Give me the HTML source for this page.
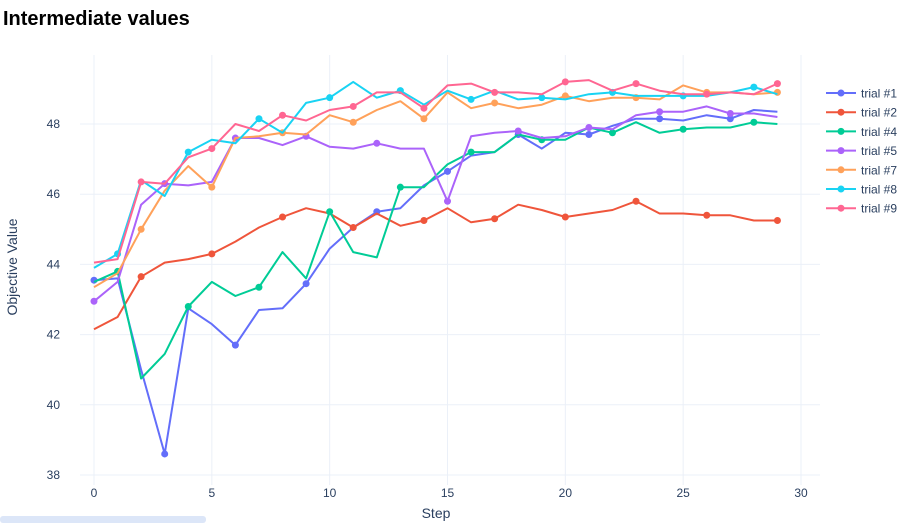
<!DOCTYPE html>
<html><head><meta charset="utf-8">
<style>
html,body{margin:0;padding:0;background:#fff;width:914px;height:523px;overflow:hidden}
svg{display:block;font-family:"Liberation Sans",Arial,sans-serif}
</style></head><body>
<svg id="chart" width="914" height="523">
<text x="3" y="25" font-size="20" font-weight="bold" fill="#000">Intermediate values</text>
<g id="grid"></g>
<g id="axes"></g>
<g id="series"></g>
<g id="legend"></g>
<text x="436" y="518" font-size="14" fill="#2a3f5f" text-anchor="middle">Step</text>
<text transform="translate(17,267) rotate(-90)" font-size="14" fill="#2a3f5f" text-anchor="middle">Objective Value</text>
<rect x="0" y="516" width="206" height="7" rx="3" fill="#dce6f8"/>
</svg>
<script>
const steps=[0,1,2,3,4,5,6,7,8,9,10,11,12,13,14,15,16,17,18,19,20,21,22,23,24,25,26,27,28,29];
const xTicks=[0,5,10,15,20,25,30];
const yTicks=[38,40,42,44,46,48];
const names=["trial #1","trial #2","trial #4","trial #5","trial #7","trial #8","trial #9"];
const colors=["#636efa","#EF553B","#00cc96","#ab63fa","#FFA15A","#19d3f3","#FF6692"];
const markerOffsets=[0,2,1,0,2,1,2];
const trial1=[43.55,43.6,41.0,38.6,42.75,42.3,41.7,42.7,42.75,43.45,44.45,45.05,45.5,45.6,46.25,46.65,47.1,47.2,47.7,47.3,47.75,47.7,47.95,48.15,48.15,48.1,48.25,48.15,48.4,48.35];
const trial2=[42.15,42.5,43.65,44.05,44.15,44.3,44.65,45.05,45.35,45.6,45.45,45.05,45.45,45.1,45.25,45.6,45.2,45.3,45.7,45.55,45.35,45.45,45.55,45.8,45.45,45.45,45.4,45.4,45.25,45.25];
const trial4=[43.5,43.8,40.75,41.45,42.8,43.5,43.1,43.35,44.35,43.6,45.5,44.35,44.2,46.2,46.2,46.85,47.2,47.2,47.7,47.55,47.55,47.9,47.75,48.05,47.75,47.85,47.9,47.9,48.05,48.0];
const trial5=[42.95,43.5,45.7,46.3,46.25,46.35,47.6,47.6,47.4,47.65,47.35,47.3,47.45,47.3,47.3,45.8,47.65,47.75,47.8,47.6,47.65,47.9,47.85,48.25,48.35,48.35,48.5,48.3,48.3,48.2];
const trial7=[43.35,43.75,45.0,46.1,46.8,46.2,47.6,47.65,47.75,47.7,48.25,48.05,48.4,48.65,48.15,48.9,48.45,48.6,48.45,48.55,48.8,48.65,48.75,48.75,48.7,49.1,48.9,48.9,48.85,48.9];
const trial8=[43.9,44.3,46.4,45.95,47.2,47.55,47.45,48.15,47.75,48.6,48.75,49.2,48.75,48.95,48.55,48.95,48.7,48.95,48.7,48.75,48.7,48.85,48.9,48.8,48.8,48.8,48.8,48.9,49.05,48.85];
const trial9=[44.05,44.15,46.35,46.3,47.05,47.3,48.0,47.8,48.25,48.1,48.4,48.5,48.9,48.9,48.45,49.1,49.15,48.9,48.9,48.85,49.2,49.25,48.95,49.15,48.95,48.85,48.85,48.9,48.85,49.15];
const allSeries=[trial1,trial2,trial4,trial5,trial7,trial8,trial9];

const NS="http://www.w3.org/2000/svg";
const X0=94,X1=801,Y0=475,Y1=124;
function xs(v){return X0+(v-0)/(30-0)*(X1-X0);}
function ys(v){return Y0-(v-38)/(48-38)*(Y0-Y1);}
function mk(tag,attrs,parent){const e=document.createElementNS(NS,tag);for(const k in attrs)e.setAttribute(k,attrs[k]);parent.appendChild(e);return e;}
const grid=document.getElementById('grid'),axes=document.getElementById('axes'),ser=document.getElementById('series'),leg=document.getElementById('legend');

xTicks.forEach(t=>{
  const l=mk('line',{x1:xs(t),x2:xs(t),y1:55,y2:485,stroke:'#ebf0f8','stroke-width':1},grid);
  
  
  const tx=mk('text',{x:xs(t),y:497,'font-size':12,fill:'#2a3f5f','text-anchor':'middle'},axes);
  tx.textContent=t;
  
  
});
yTicks.forEach(t=>{
  const l=mk('line',{x1:80,x2:820,y1:ys(t),y2:ys(t),stroke:'#ebf0f8','stroke-width':1},grid);
  
  
  const tx=mk('text',{x:60,y:ys(t)+4,'font-size':12,fill:'#2a3f5f','text-anchor':'end'},axes);
  tx.textContent=t;
  
  
});

allSeries.forEach((s,i)=>{
  const g=mk('g',{},ser);
  
  
  const pts=s.map((v,j)=>xs(steps[j]).toFixed(1)+','+ys(v).toFixed(1)).join(' ');
  const pl=mk('polyline',{points:pts,fill:'none',stroke:colors[i],'stroke-width':2,'stroke-linejoin':'round'},g);
  
  
  s.forEach((v,j)=>{
    if((j-markerOffsets[i])%3===0 && j>=markerOffsets[i]){
      const c=mk('circle',{cx:xs(steps[j]),cy:ys(v),r:3.5,fill:colors[i]},g);
      
      
    }
  });
});

names.forEach((n,i)=>{
  const y=93+i*19.2;
  const g=mk('g',{},leg);
  
  
  mk('line',{x1:826,x2:856,y1:y,y2:y,stroke:colors[i],'stroke-width':2},g);
  mk('circle',{cx:841,cy:y,r:3.5,fill:colors[i]},g);
  const t=mk('text',{x:861,y:y+4.5,'font-size':12,fill:'#2a3f5f'},g);
  t.textContent=n;
});
</script>
</body></html>
